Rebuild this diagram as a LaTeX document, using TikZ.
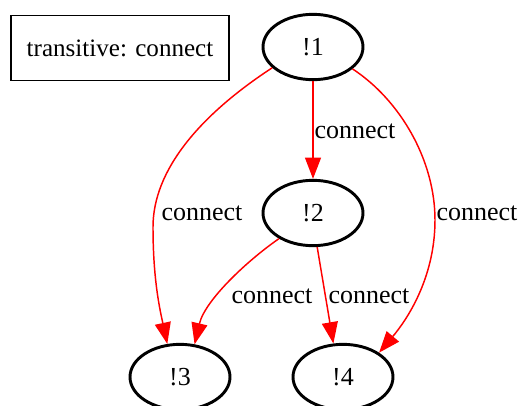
\documentclass[tikz,border=0pt]{standalone}
\usepackage{fontspec}
\setmainfont{Liberation Serif}
\usetikzlibrary{shapes.geometric,arrows.meta}
\begin{document}
\begin{tikzpicture}[x=0.75pt,y=-0.75pt,
  txt/.style={font=\fontsize{19.5}{22}\selectfont},
  state/.style={ellipse,draw,line width=2.2pt,minimum width=75pt,minimum height=49pt,inner sep=0pt,txt},
  legendbox/.style={draw,line width=1.4pt,minimum width=163.5pt,minimum height=48.75pt,inner sep=0pt,font=\fontsize{18.8}{22}\selectfont},
  link/.style={draw=red,line width=1.1pt,-{Triangle[length=16pt,width=12pt,fill=red]}},
  elabel/.style={inner sep=0pt,txt}]
\clip (0,0) rectangle (518,405);
\fill[white] (0,0) rectangle (518,405);

% legend
\node[legendbox] (legend) at (120,48) {transitive: connect};

% states
\node[state] (n1) at (313,47) {!1};
\node[state] (n2) at (313,213) {!2};
\node[state] (n3) at (180,377) {!3};
\node[state] (n4) at (343,377) {!4};

% transitions
\draw[link] (n1.south) -- (n2.north);
\draw[link] (n1.207) .. controls (200,115) and (153,170) .. (153,227)
  .. controls (153,280) and (160,310) .. (n3.111);
\draw[link] (n1.331) .. controls (400,100) and (435,160) .. (435,220)
  .. controls (435,280) and (405,322) .. (n4.34);
\draw[link] (n2.217) .. controls (248,260) and (205,300) .. (n3.66);
\draw[link] (n2.277) -- (n4.106);

% edge labels
\node[elabel] (l12) at (355,131) {connect};
\node[elabel] (l13) at (202,213) {connect};
\node[elabel] (l14) at (477,213) {connect};
\node[elabel] (l23) at (272,296) {connect};
\node[elabel] (l24) at (369,296) {connect};
\end{tikzpicture}
\end{document}
